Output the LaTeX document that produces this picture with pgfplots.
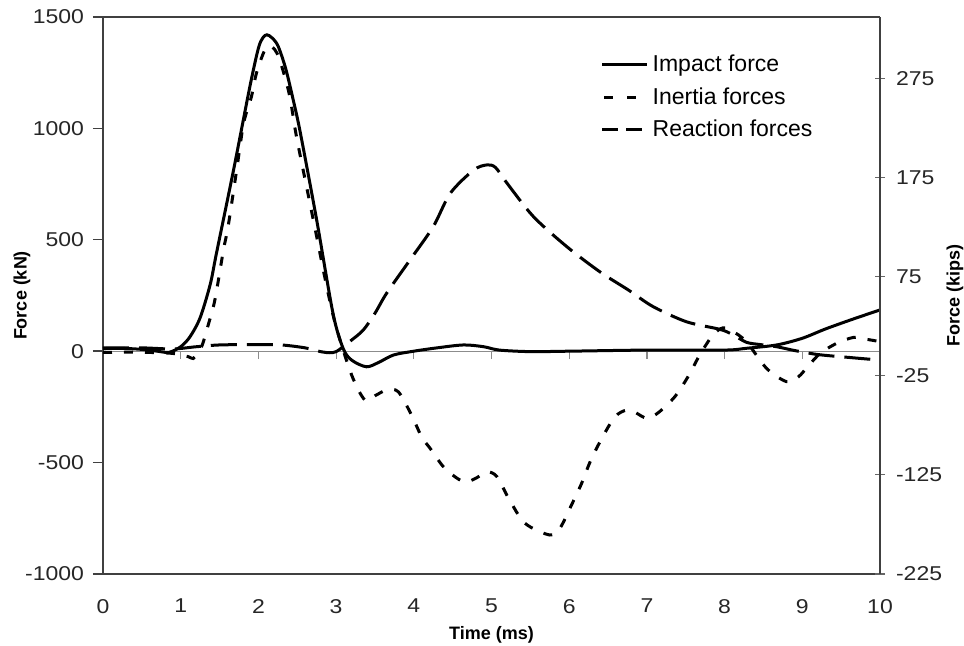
\documentclass[border=0pt]{standalone}
\usepackage{pgfplots}
\pgfplotsset{compat=1.18}
\usepackage{fontspec}
\setmainfont{Liberation Sans}
\newfontfamily\tickfont[FakeStretch=1.15]{Liberation Sans}

\pgfplotsset{
  inertia leg/.style={legend image code/.code={\draw[##1, dash pattern=on 4.5pt off 7pt] (1pt,0pt) -- (18pt,0pt);}},
  reaction leg/.style={legend image code/.code={\draw[##1, dash pattern=on 8pt off 4pt] (0pt,0pt) -- (21pt,0pt);}},
}

\pgfplotstableread{
x y
0 12
0.3 12
0.5 8
0.7 0
0.85 -5
1.0 20
1.12 65
1.25 150
1.38 300
1.46 439
1.68 813
1.89 1187
2.0 1360
2.06 1408
2.11 1420
2.17 1408
2.25 1372
2.35 1270
2.45 1125
2.54 980
2.75 589
2.96 170
3.09 13
3.2 -40
3.39 -70
3.55 -50
3.74 -17
4.0 0
4.3 15
4.64 28
4.9 20
5.1 5
5.5 -2
6.0 0
7.0 5
8.0 5
8.28 13
8.67 28
9.0 58
9.3 100
9.66 145
10 185
}\impact

\pgfplotstableread{
x y
0 -5
0.5 -5
0.9 -10
1.1 -25
1.16 -33
1.22 -10
1.28 30
1.36 125
1.44 230
1.55 454
1.61 559
1.72 813
1.81 1023
1.91 1142
1.98 1254
2.11 1367
2.24 1337
2.39 1165
2.49 963
2.62 738
2.75 514
2.88 289
3.0 110
3.2 -107
3.37 -219
3.5 -200
3.65 -174
3.8 -182
3.97 -286
4.1 -384
4.21 -436
4.4 -526
4.64 -586
4.8 -570
4.94 -541
5.07 -563
5.22 -660
5.43 -772
5.75 -825
5.88 -795
6.03 -690
6.16 -593
6.27 -496
6.42 -391
6.59 -294
6.74 -264
6.85 -275
7.0 -301
7.15 -275
7.36 -204
7.53 -114
7.68 -17
7.85 73
7.98 105
8.1 90
8.28 43
8.54 -77
8.8 -137
8.95 -115
9.08 -65
9.23 -10
9.44 35
9.66 62
9.8 55
10 43
}\inertia

\pgfplotstableread{
x y
0 15
0.5 15
0.9 10
1.2 20
1.5 28
2.0 30
2.3 28
2.6 15
2.8 -2
2.92 -7
3.0 -2
3.09 20
3.2 50
3.35 95
3.5 170
3.65 260
3.95 409
4.25 559
4.47 709
4.77 813
4.94 836
5.05 825
5.2 754
5.54 604
5.97 469
6.4 355
6.76 275
7.08 200
7.51 132
7.94 98
8.1 75
8.28 40
8.45 30
8.67 20
8.9 3
9.2 -15
9.6 -28
10 -40
}\reaction

\begin{document}
\begin{tikzpicture}
\pgfplotsset{
  base/.style={
    scale only axis, width=388.5pt, height=278.5pt,
    xmin=0, xmax=10,
  }
}
% zero line with ticks
\begin{axis}[base, ymin=-1000, ymax=1500,
  axis x line=middle, axis y line=none,
  xtick={1,2,...,9}, xticklabels={},
  x axis line style={black!45, line width=0.6pt, -},
  tick style={black!45, line width=0.6pt},
  major tick length=4pt, tick align=outside,
  ]
\end{axis}
% main axis
\begin{axis}[base, ymin=-1000, ymax=1500,
  axis y line*=left, axis x line*=box,
  axis line style={black!75, line width=0.9pt},
  xtick={0,1,...,10}, ytick={-1000,-500,...,1500},
  /pgf/number format/assume math mode=true,
  /pgf/number format/1000 sep={},
  x tick style={draw=none},
  y tick style={black!75, line width=0.7pt},
  major tick length=5pt, tick align=outside,
  ticklabel style={font=\tickfont\fontsize{10}{11}\selectfont, text=black!85},
  xticklabel style={yshift=-4pt},
  yticklabel style={xshift=-1pt},
  xlabel={\textbf{Time (ms)}},
  ylabel={\textbf{Force (kN)}},
  label style={font=\fontsize{9}{10}\selectfont},
  xlabel style={at={(axis description cs:0.5,-0.1095)}, anchor=center},
  ylabel style={at={(axis description cs:-0.1042,0.5)}, anchor=center},
  legend style={at={(axis description cs:0.64,0.94)}, anchor=north west,
    draw=none, fill=none, font=\fontsize{11.5}{13}\selectfont,
    row sep=2.5pt, inner sep=0pt},
  legend cell align=left,
  legend image code/.code={\draw[#1] (0pt,0pt) -- (22.5pt,0pt);},
  ]
\addplot[black, line width=1.5pt, smooth] table {\impact};
\addlegendentry{Impact force}
\addplot[black, line width=1.5pt, smooth, dash pattern=on 4.5pt off 6pt, inertia leg] table {\inertia};
\addlegendentry{Inertia forces}
\addplot[black, line width=1.5pt, smooth, dash pattern=on 13pt off 5pt, reaction leg] table {\reaction};
\addlegendentry{Reaction forces}
\end{axis}
% right axis (kips)
\begin{axis}[base, ymin=-225, ymax=337.05,
  axis y line*=right, axis x line=none,
  axis line style={black!75, line width=0.9pt},
  ytick={-225,-125,...,275},
  y tick style={black!60, line width=0.6pt},
  major tick length=5pt, tick align=center,
  /pgf/number format/assume math mode=true,
  ticklabel style={font=\tickfont\fontsize{10}{11}\selectfont, text=black!85},
  yticklabel style={xshift=2pt},
  ylabel={\textbf{Force (kips)}},
  label style={font=\fontsize{9}{10}\selectfont},
  ylabel style={at={(axis description cs:1.0965,0.5)}, anchor=center},
  ]
\end{axis}
\pgfresetboundingbox
\path (current axis.south west)+(-51.5pt,-36pt) rectangle ([xshift=42pt,yshift=8.5pt]current axis.north east);
\end{tikzpicture}
\end{document}
